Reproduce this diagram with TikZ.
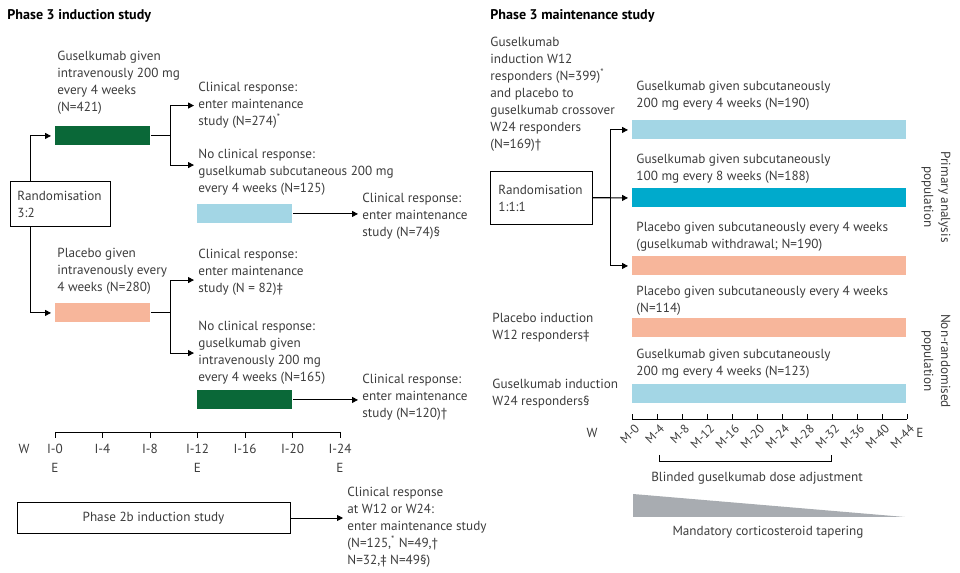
\documentclass[tikz,border=0pt]{standalone}
\usepackage{fontspec}
\setmainfont{PT Sans}
\usetikzlibrary{arrows.meta}
\definecolor{ivgreen}{RGB}{10,104,56}
\definecolor{scblue}{RGB}{163,214,229}
\definecolor{scteal}{RGB}{0,170,204}
\definecolor{pbsalmon}{RGB}{247,182,155}
\definecolor{tapergray}{RGB}{168,172,177}
\definecolor{txtgray}{RGB}{60,60,60}

\begin{document}
\begin{tikzpicture}[x=0.02cm, y=-0.02cm, line width=0.5pt,
  every node/.style={font=\fontsize{7.5}{9.67}\selectfont, text=txtgray, inner sep=0pt},
  txt/.style={anchor=north west, align=left},
  title/.style={anchor=west, font=\fontsize{8}{10}\selectfont\bfseries, text=black},
  box/.style={draw, anchor=north west, align=left},
  ibar/.style={anchor=north west, minimum width=1.9cm, minimum height=0.38cm},
  mbar/.style={anchor=north west, minimum width=5.48cm, minimum height=0.38cm},
  arr/.style={-{Triangle[length=0.12cm,width=0.12cm]}, shorten >=0.08cm}]
  \useasboundingbox (0,0) rectangle (960,573);

  % induction study
  \node[title] (t1) at (7,16) {Phase 3 induction study};
  \node[box, text width=1.72cm, inner xsep=0.14cm, minimum height=0.9cm] (rand1) at (10,181) {Randomisation\\3:2};
  \node[ibar, fill=ivgreen] (g1) at (55,126) {};
  \node[ibar, fill=pbsalmon] (p1) at (55,303) {};
  \node[ibar, fill=scblue] (g2) at (197,204) {};
  \node[ibar, fill=ivgreen] (g3) at (197,390) {};
  \node[txt] (gtxt) at (57,51) {Guselkumab given\\intravenously 200 mg\\every 4 weeks\\(N=421)};
  \node[txt] (ptxt) at (57,248) {Placebo given\\intravenously every\\4 weeks (N=280)};
  \node[txt] (cr1) at (198,82) {Clinical response:\\enter maintenance\\study (N=274)\textsuperscript{*}};
  \node[txt] (nc1) at (198,149) {No clinical response:\\guselkumab subcutaneous 200 mg\\every 4 weeks (N=125)};
  \node[txt] (cr2) at (362,193) {Clinical response:\\enter maintenance\\study (N=74)§};
  \node[txt] (cr3) at (198,249) {Clinical response:\\enter maintenance\\study (N = 82)‡};
  \node[txt] (nc2) at (198,321) {No clinical response:\\guselkumab given\\intravenously 200 mg\\every 4 weeks (N=165)};
  \node[txt] (cr4) at (362,374) {Clinical response:\\enter maintenance\\study (N=120)†};

  \draw[arr] ([xshift=0.4cm]rand1.north west) |- (g1.west);
  \draw[arr] ([xshift=0.4cm]rand1.south west) |- (p1.west);
  \draw (g1.east) -- ++(20,0) coordinate (fk1);
  \draw[arr] (fk1) |- (cr1.west);
  \draw[arr] (fk1) |- ([yshift=0.15cm]nc1.west);
  \draw (p1.east) -- ++(20,0) coordinate (fk2);
  \draw[arr] (fk2) |- ([yshift=-0.15cm]cr3.west);
  \draw[arr] (fk2) |- (nc2.west);
  \draw[arr] (g2.east) -- (g2.east -| cr2.west);
  \draw[arr] (g3.east) -- (g3.east -| cr4.west);

  % induction weeks
  \draw (55,432) -- (340,432);
  \foreach \t [count=\i from 0] in {0,4,...,24} {
    \draw (55+47.5*\i,432) -- ++(0,6);
    \node (il\t) at (55+47.5*\i,449) {I-\t};
  }
  \foreach \t in {0,12,24}
    \node (ie\t) at (55+11.875*\t,468) {E};
  \node (iw) at (24,449) {W};

  % phase 2b
  \node[draw, minimum width=5.46cm, minimum height=0.62cm] (p2b) at (153.5,518) {Phase 2b induction study};
  \node[txt] (cr5) at (347,487) {Clinical response\\at W12 or W24:\\enter maintenance study\\(N=125,\textsuperscript{*} N=49,†\\N=32,‡ N=49§)};
  \draw[arr] (p2b.east) -- (p2b.east -| cr5.west);

  % maintenance study
  \node[title] (t2) at (490,16) {Phase 3 maintenance study};
  \node[txt] (resp) at (490,37) {Guselkumab\\induction W12\\responders (N=399)\textsuperscript{*}\\and placebo to\\guselkumab crossover\\W24 responders\\(N=169)†};
  \node[box, text width=1.72cm, inner xsep=0.16cm, minimum height=1.06cm] (rand2) at (490,171) {Randomisation\\1:1:1};
  \node[mbar, fill=scblue] (m1) at (632,120) {};
  \node[mbar, fill=scteal] (m2) at (632,188) {};
  \node[mbar, fill=pbsalmon] (m3) at (632,256) {};
  \node[mbar, fill=pbsalmon] (m4) at (632,318) {};
  \node[mbar, fill=scblue] (m5) at (632,384) {};
  \node[txt] (m1t) at (636,81) {Guselkumab given subcutaneously\\200 mg every 4 weeks (N=190)};
  \node[txt] (m2t) at (636,154) {Guselkumab given subcutaneously\\100 mg every 8 weeks (N=188)};
  \node[txt] (m3t) at (636,222) {Placebo given subcutaneously every 4 weeks\\(guselkumab withdrawal; N=190)};
  \node[txt] (m4t) at (636,286) {Placebo given subcutaneously every 4 weeks\\(N=114)};
  \node[txt] (m5t) at (636,349) {Guselkumab given subcutaneously\\200 mg every 4 weeks (N=123)};
  \node[txt] (pbind) at (492,313) {Placebo induction\\W12 responders‡};
  \node[txt] (gsind) at (492,379) {Guselkumab induction\\W24 responders§};
  \node[rotate=-90, align=center] (prim) at (936,197) {Primary analysis\\population};
  \node[rotate=-90, align=center] (nonr) at (936,361) {Non-randomised\\population};

  \draw[arr] (rand2.east) -- (m2.west);
  \draw (rand2.east) -- ++(18,0) coordinate (fk3);
  \draw[arr] (fk3) |- (m1.west);
  \draw[arr] (fk3) |- (m3.west);

  % maintenance weeks
  \draw (632,419) -- (907,419);
  \foreach \t [count=\i from 0] in {0,4,...,44} {
    \draw (632+25*\i,419) -- ++(0,-5);
    \node[rotate=45, anchor=north east, font=\fontsize{7}{9}\selectfont] (ml\t) at (634+25*\i,423) {M-\t};
  }
  \node (mw) at (592,433) {W};
  \node (me) at (920,433) {E};
  \draw (659,455) -- (659,461) -- (831,461) -- (831,455);
  \node (blind) at (757,478) {Blinded guselkumab dose adjustment};
  \fill[tapergray] (633,494) -- (633,517) -- (905,517) -- cycle;
  \node (taper) at (768,532) {Mandatory corticosteroid tapering};
\end{tikzpicture}
\end{document}
